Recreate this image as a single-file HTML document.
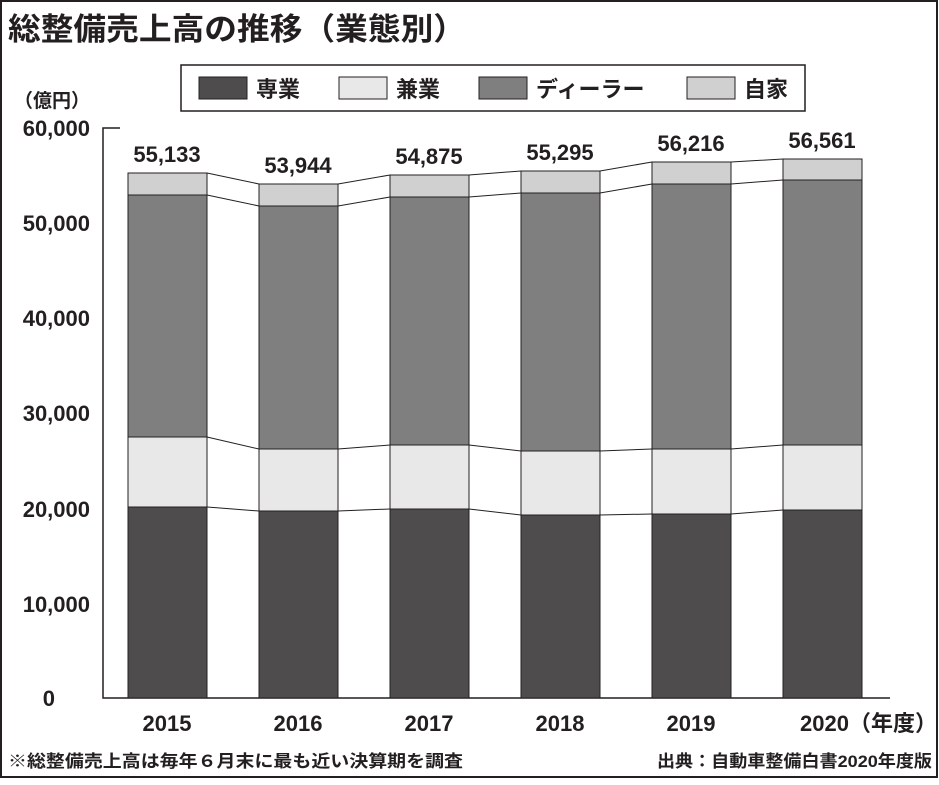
<!DOCTYPE html>
<html><head><meta charset="utf-8"><style>
body{margin:0;background:#fff}
svg text{font-family:"Liberation Sans","Noto Sans CJK JP",sans-serif;font-weight:bold;fill:#231f20}
</style></head><body>
<svg width="939" height="780" xmlns="http://www.w3.org/2000/svg">
<rect x="1" y="1" width="936" height="776" fill="#fff" stroke="#231f20" stroke-width="2"/>
<text x="8" y="40" font-size="31" textLength="458" lengthAdjust="spacingAndGlyphs">総整備売上高の推移（業態別）</text>
<rect x="181" y="65" width="624" height="46" fill="#fff" stroke="#231f20" stroke-width="1.5"/>
<rect x="199" y="77" width="48" height="22" fill="#4f4c4e" stroke="#231f20"/><text x="256" y="97" font-size="22">専業</text>
<rect x="339" y="77" width="48" height="22" fill="#e8e8e8" stroke="#231f20"/><text x="396" y="97" font-size="22">兼業</text>
<rect x="479" y="77" width="48" height="22" fill="#7f7f7f" stroke="#231f20"/><text x="536" y="97" font-size="22">ディーラー</text>
<rect x="687" y="77" width="48" height="22" fill="#d0d0d0" stroke="#231f20"/><text x="744" y="97" font-size="22">自家</text>
<text x="14" y="107" font-size="19">（億円）</text>
<g font-size="22" text-anchor="end">
<text x="90" y="136">60,000</text><text x="90" y="231">50,000</text><text x="90" y="326">40,000</text>
<text x="90" y="421">30,000</text><text x="90" y="517">20,000</text><text x="90" y="612">10,000</text><text x="55" y="706">0</text>
</g>
<path d="M120 128H103V698H890" fill="none" stroke="#231f20" stroke-width="1.5"/>
<g stroke="#231f20" stroke-width="1" fill="none">
<polyline points="207,507 259,511 338,511 390,509 469,509 521,515 600,515 652,514 731,514 783,510"/>
<polyline points="207,437 259,449 338,449 390,445 469,445 521,451 600,451 652,449 731,449 783,445"/>
<polyline points="207,195 259,206 338,206 390,197 469,197 521,193 600,193 652,184 731,184 783,180"/>
<polyline points="207,173 259,184 338,184 390,175 469,175 521,171 600,171 652,162 731,162 783,159"/>
</g>
<g stroke="#231f20" stroke-width="1">
<rect x="128" y="507" width="79" height="191" fill="#4f4c4e"/><rect x="128" y="437" width="79" height="70" fill="#e8e8e8"/><rect x="128" y="195" width="79" height="242" fill="#7f7f7f"/><rect x="128" y="173" width="79" height="22" fill="#d0d0d0"/>
<rect x="259" y="511" width="79" height="187" fill="#4f4c4e"/><rect x="259" y="449" width="79" height="62" fill="#e8e8e8"/><rect x="259" y="206" width="79" height="243" fill="#7f7f7f"/><rect x="259" y="184" width="79" height="22" fill="#d0d0d0"/>
<rect x="390" y="509" width="79" height="189" fill="#4f4c4e"/><rect x="390" y="445" width="79" height="64" fill="#e8e8e8"/><rect x="390" y="197" width="79" height="248" fill="#7f7f7f"/><rect x="390" y="175" width="79" height="22" fill="#d0d0d0"/>
<rect x="521" y="515" width="79" height="183" fill="#4f4c4e"/><rect x="521" y="451" width="79" height="64" fill="#e8e8e8"/><rect x="521" y="193" width="79" height="258" fill="#7f7f7f"/><rect x="521" y="171" width="79" height="22" fill="#d0d0d0"/>
<rect x="652" y="514" width="79" height="184" fill="#4f4c4e"/><rect x="652" y="449" width="79" height="65" fill="#e8e8e8"/><rect x="652" y="184" width="79" height="265" fill="#7f7f7f"/><rect x="652" y="162" width="79" height="22" fill="#d0d0d0"/>
<rect x="783" y="510" width="79" height="188" fill="#4f4c4e"/><rect x="783" y="445" width="79" height="65" fill="#e8e8e8"/><rect x="783" y="180" width="79" height="265" fill="#7f7f7f"/><rect x="783" y="159" width="79" height="21" fill="#d0d0d0"/>
</g>
<g font-size="22" text-anchor="middle">
<text x="167" y="162">55,133</text><text x="298" y="173">53,944</text><text x="429" y="164">54,875</text>
<text x="560" y="160">55,295</text><text x="691" y="151">56,216</text><text x="822" y="148">56,561</text>
</g>
<g font-size="22" text-anchor="middle">
<text x="167" y="731">2015</text><text x="298" y="731">2016</text><text x="429" y="731">2017</text>
<text x="560" y="731">2018</text><text x="691" y="731">2019</text>
</g>
<text x="800" y="731" font-size="22">2020（年度）</text>
<text x="8" y="767" font-size="17" textLength="455" lengthAdjust="spacingAndGlyphs">※総整備売上高は毎年６月末に最も近い決算期を調査</text>
<text x="657" y="767" font-size="17" textLength="275" lengthAdjust="spacingAndGlyphs">出典：自動車整備白書2020年度版</text>
</svg>
</body></html>
